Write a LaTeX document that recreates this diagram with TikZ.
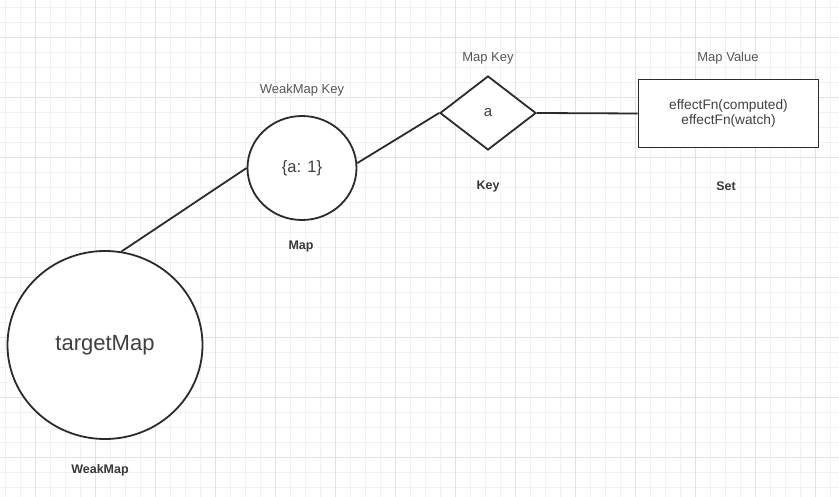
\documentclass[tikz,border=0pt]{standalone}
\usepackage{fontspec}
\setmainfont{Liberation Sans}
\usetikzlibrary{shapes.geometric}
\definecolor{gridminor}{HTML}{F1F1F1}
\definecolor{gridmajor}{HTML}{E2E2E2}
\definecolor{ink}{HTML}{2B2B2B}
\definecolor{caption}{HTML}{555555}
\tikzset{basic/.style={draw=ink,line width=1.8pt,fill=white,inner sep=0pt,
                       text=ink!90,text badly centered}}
\tikzset{toplabel/.style={text=caption,font=\fontsize{13}{15}\selectfont}}
\tikzset{typelabel/.style={text=black!78,font=\bfseries\fontsize{12.5}{15}\selectfont}}

\begin{document}
\begin{tikzpicture}[x=1pt,y=-1pt,
      % styles for clarity
      mapnode/.style ={basic, ellipse},
      keynode/.style ={basic, diamond},
      setnode/.style ={basic, rectangle, align=center},
      link/.style    ={draw=ink, line width=1.8pt}
    ]
    \useasboundingbox (0,0) rectangle (839,497);
    \fill[white] (0,0) rectangle (839,497);

    % background grid
    \foreach \x in {5.7,20.7,...,839}
      \draw[gridminor, line width=0.8pt] (\x,0) -- (\x,497);
    \foreach \y in {7.3,22.3,...,497}
      \draw[gridminor, line width=0.8pt] (0,\y) -- (839,\y);
    \foreach \x in {35.7,95.7,...,839}
      \draw[gridmajor, line width=0.8pt] (\x,0) -- (\x,497);
    \foreach \y in {37.3,97.3,...,497}
      \draw[gridmajor, line width=0.8pt] (0,\y) -- (839,\y);

    % the four levels
    \node[mapnode, minimum width=195pt, minimum height=188pt,
          font=\fontsize{22}{24}\selectfont] (tmap) at (105,345) {targetMap};
    \node[mapnode, minimum width=109pt, minimum height=104pt,
          font=\fontsize{16.5}{18}\selectfont] (mkey) at (302,168) {\{a: 1\}};
    \node[keynode, minimum width=96pt, minimum height=74pt,
          font=\fontsize{15}{18}\selectfont] (key) at (488,113) {a};
    \node[setnode, minimum width=180pt, minimum height=68pt,
          font=\fontsize{13.7}{15}\selectfont] (set) at (728.5,113.5)
          {effectFn(computed)\\effectFn(watch)};

    % captions
    \node[toplabel]  (mkeytop) at (302,90)  {WeakMap Key};
    \node[toplabel]  (keytop)  at (488,58)  {Map Key};
    \node[toplabel]  (settop)  at (728,58)  {Map Value};
    \node[typelabel] (tmaptyp) at (100,470) {WeakMap};
    \node[typelabel] (mkeytyp) at (301,246) {Map};
    \node[typelabel] (keytyp)  at (488,186) {Key};
    \node[typelabel] (settyp)  at (726,186) {Set};

    % connections
    \draw[link] (tmap.80) -- (mkey.west);
    \draw[link] (mkey.5) -- (key.west);
    \draw[link] (key.east) -- (set.west);
  \end{tikzpicture}
\end{document}
